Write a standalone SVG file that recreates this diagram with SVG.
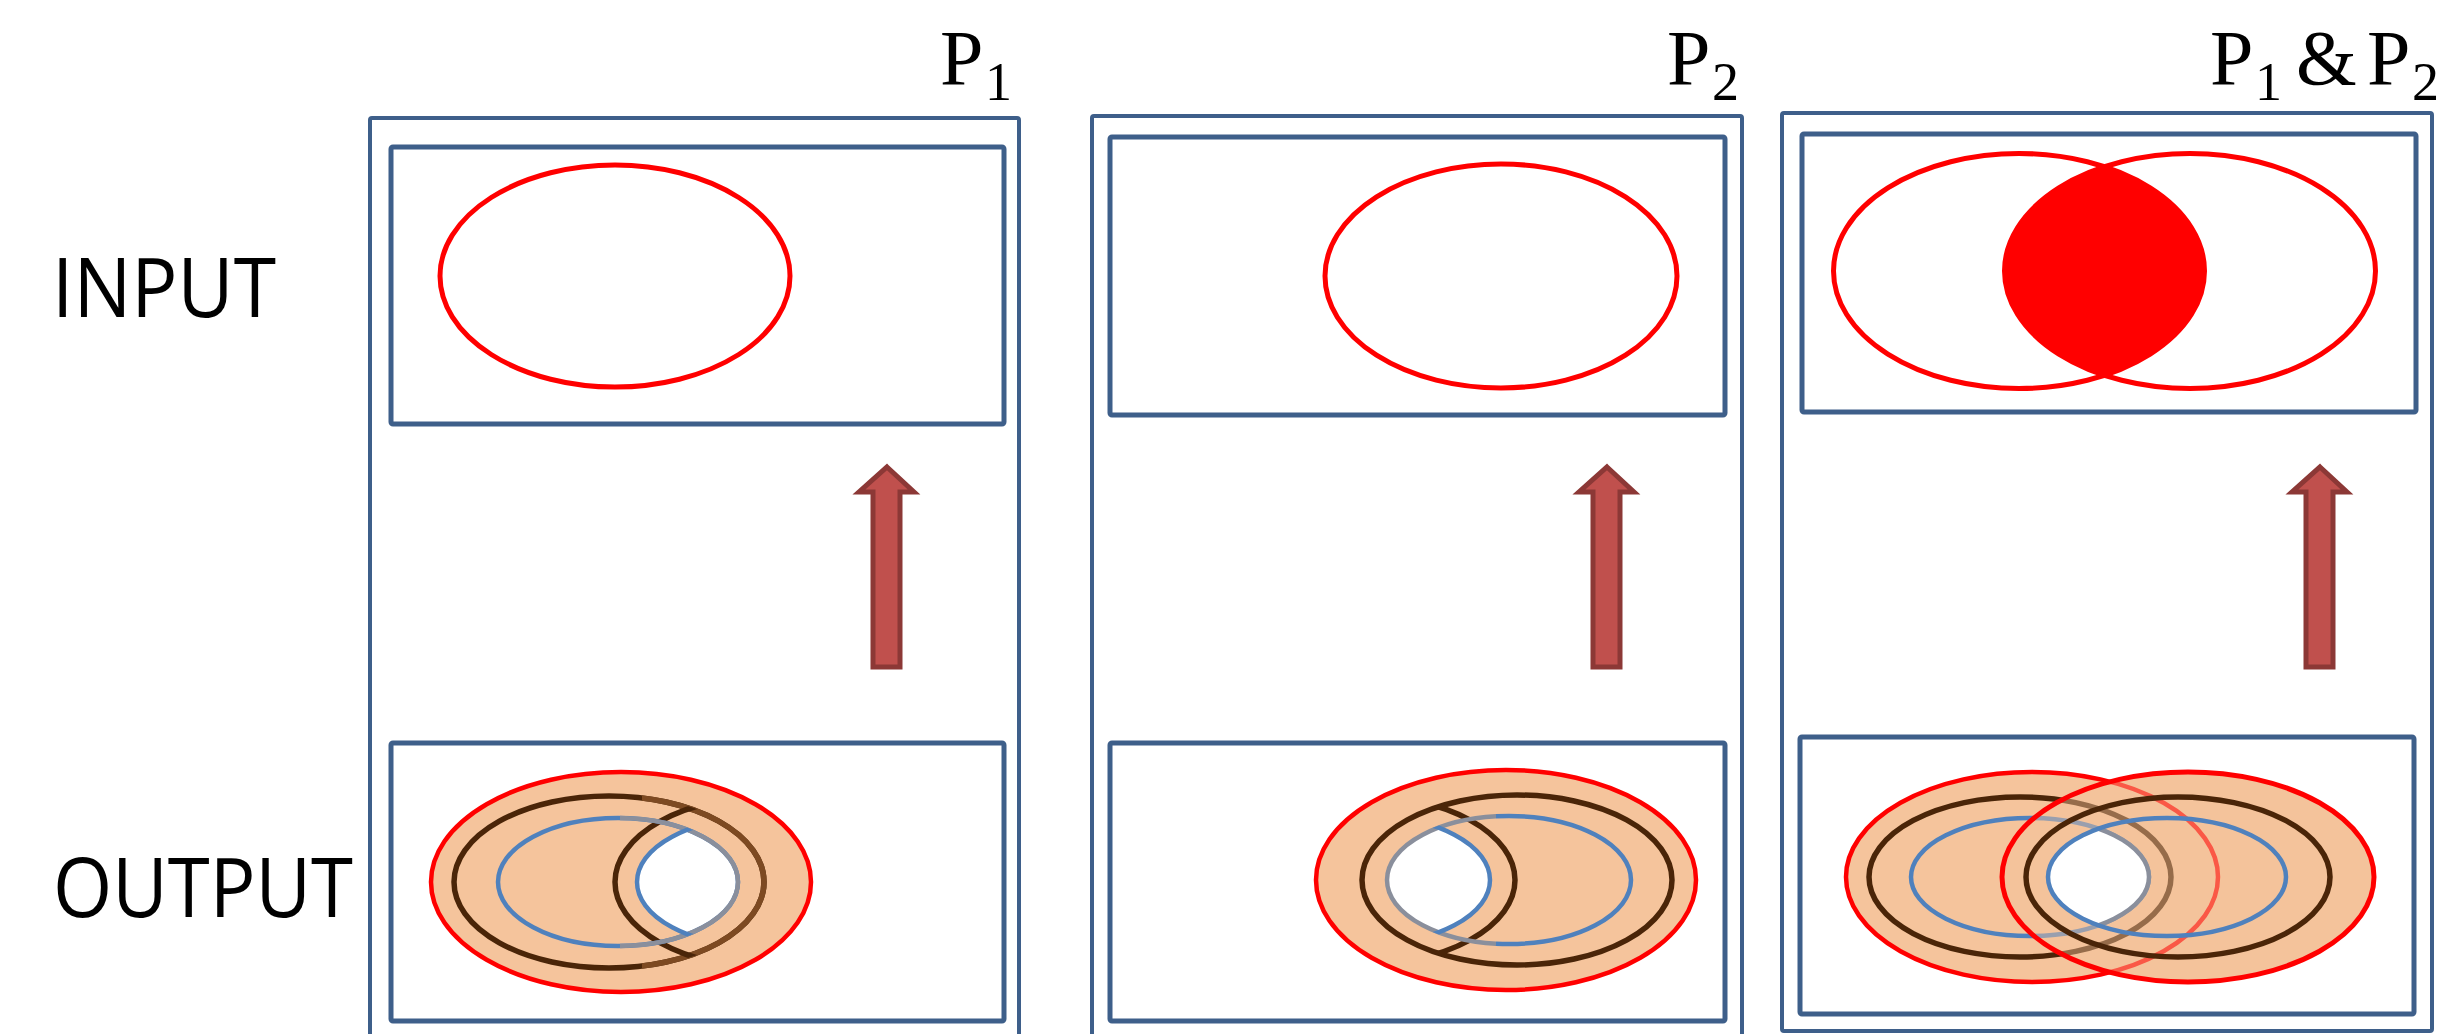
<svg xmlns="http://www.w3.org/2000/svg" width="2464" height="1034" viewBox="0 0 2464 1034">
<style>
.outer{fill:none;stroke:#3e5f8a;stroke-width:4}
.inner{fill:none;stroke:#3e5f8a;stroke-width:5}
.redline{fill:none;stroke:#ff0000;stroke-width:5}
.orange{fill:#f5c49c;stroke:#ff0000;stroke-width:4.5}
.brown{fill:none;stroke:#4a2508;stroke-width:5.5}
.brownlt{fill:none;stroke:#7d4a22;stroke-width:5.5}
.blue{fill:none;stroke:#4f81bd;stroke-width:4.5}
.gray{fill:none;stroke:#8a8f9c;stroke-width:4.5}
.arrow{fill:#c0504d;stroke:#8c3836;stroke-width:5;stroke-linejoin:miter}
.lbl{font-family:"Open Sans","Noto Sans",sans-serif;font-size:82px;fill:#000}
.ser{font-family:"Liberation Serif","DejaVu Serif",serif;fill:#000;font-size:78px}
.sub{font-size:54px}
</style>
<defs>
<clipPath id="c1lbrown"><ellipse cx="609" cy="882" rx="157" ry="88"/></clipPath>
<clipPath id="c1lblue"><ellipse cx="618" cy="882" rx="122" ry="66"/></clipPath>
<clipPath id="c1hole"><ellipse cx="618" cy="882" rx="120" ry="64"/></clipPath>
<clipPath id="c1rb"><rect x="642" y="700" width="300" height="330"/></clipPath>
<clipPath id="c1rbl"><rect x="620" y="700" width="300" height="330"/></clipPath>
<clipPath id="c2mbrown"><ellipse cx="1517" cy="880" rx="157" ry="87"/></clipPath>
<clipPath id="c2mblue"><ellipse cx="1509" cy="880" rx="124" ry="66"/></clipPath>
<clipPath id="c2hole"><ellipse cx="1509" cy="880" rx="122" ry="64"/></clipPath>
<clipPath id="c2left"><rect x="1200" y="700" width="296" height="330"/></clipPath>
<clipPath id="c2right"><rect x="1496" y="700" width="300" height="330"/></clipPath>
<clipPath id="c3lblue"><ellipse cx="2030" cy="877" rx="119" ry="59"/></clipPath>
<clipPath id="c3rblue"><ellipse cx="2167" cy="877" rx="121" ry="61"/></clipPath>
<clipPath id="c3topl"><ellipse cx="2019" cy="271" rx="185.5" ry="117.5"/></clipPath>
</defs>
<rect width="2464" height="1034" fill="#fff"/>

<g id="row-labels">
<text class="lbl" x="52" y="317" textLength="224" lengthAdjust="spacingAndGlyphs">INPUT</text>
<text class="lbl" x="53" y="917" textLength="300" lengthAdjust="spacingAndGlyphs">OUTPUT</text>
</g>

<g id="panel-p1">
<rect class="outer" x="370" y="118" width="649" height="940" rx="2"/>
<text class="ser" x="940" y="84">P<tspan class="sub" x="985" y="100">1</tspan></text>
<g id="p1-input">
<rect class="inner" x="391" y="147" width="613" height="277" rx="2"/>
<ellipse class="redline" cx="615" cy="276" rx="175" ry="111"/>
</g>
<g id="p1-output">
<rect class="inner" x="391" y="743" width="613" height="278" rx="2"/>
<ellipse class="orange" cx="621" cy="882" rx="190" ry="110"/>
<ellipse cx="757" cy="882" rx="120" ry="64" fill="#fff" clip-path="url(#c1hole)"/>
<ellipse class="brown" cx="609" cy="882" rx="155" ry="86"/>
<ellipse class="brownlt" cx="609" cy="882" rx="155" ry="86" clip-path="url(#c1rb)"/>
<ellipse class="brown" cx="770" cy="882" rx="155" ry="86" clip-path="url(#c1lbrown)"/>
<ellipse class="blue" cx="618" cy="882" rx="120" ry="64"/>
<ellipse class="gray" cx="618" cy="882" rx="120" ry="64" clip-path="url(#c1rbl)"/>
<ellipse class="blue" cx="757" cy="882" rx="120" ry="64" clip-path="url(#c1lblue)"/>
</g>
</g>

<g id="panel-p2">
<rect class="outer" x="1092" y="116" width="650" height="940" rx="2"/>
<text class="ser" x="1667" y="84">P<tspan class="sub" x="1712" y="100">2</tspan></text>
<g id="p2-input">
<rect class="inner" x="1110" y="137" width="615" height="278" rx="2"/>
<ellipse class="redline" cx="1501" cy="276" rx="176" ry="112"/>
</g>
<g id="p2-output">
<rect class="inner" x="1110" y="743" width="615" height="278" rx="2"/>
<ellipse class="orange" cx="1506" cy="880" rx="190" ry="110"/>
<ellipse cx="1368" cy="880" rx="122" ry="64" fill="#fff" clip-path="url(#c2hole)"/>
<ellipse class="brown" cx="1517" cy="880" rx="155" ry="85"/>
<ellipse class="brown" cx="1360" cy="880" rx="155" ry="85" clip-path="url(#c2mbrown)"/>
<ellipse class="blue" cx="1509" cy="880" rx="122" ry="64" clip-path="url(#c2right)"/>
<ellipse class="gray" cx="1509" cy="880" rx="122" ry="64" clip-path="url(#c2left)"/>
<ellipse class="blue" cx="1368" cy="880" rx="122" ry="64" clip-path="url(#c2mblue)"/>
</g>
</g>

<g id="panel-p1p2">
<rect class="outer" x="1782" y="113" width="650" height="918" rx="2"/>
<text class="ser" x="2210" y="84">P<tspan class="sub" x="2255" y="100">1</tspan><tspan x="2296" y="84">&amp;</tspan><tspan x="2367" y="84">P</tspan><tspan class="sub" x="2412" y="100">2</tspan></text>
<g id="p1p2-input">
<rect class="inner" x="1802" y="134" width="614" height="278" rx="2"/>
<ellipse cx="2190" cy="271" rx="185.5" ry="117.5" fill="#ff0000" clip-path="url(#c3topl)"/>
<ellipse class="redline" cx="2019" cy="271" rx="185.5" ry="117.5" stroke-width="6"/>
<ellipse class="redline" cx="2190" cy="271" rx="185.5" ry="117.5" stroke-width="6"/>
</g>
<g id="p1p2-output">
<rect class="inner" x="1800" y="737" width="614" height="277" rx="2"/>
<ellipse cx="2188" cy="877" rx="186" ry="105" fill="#f5c49c"/>
<ellipse class="orange" cx="2032" cy="877" rx="186" ry="105"/>
<ellipse class="brown" cx="2020" cy="877" rx="151" ry="80"/>
<ellipse class="blue" cx="2030" cy="877" rx="119" ry="59"/>
<ellipse cx="2188" cy="877" rx="186" ry="105" fill="#f5c49c" fill-opacity="0.45"/>
<ellipse cx="2167" cy="877" rx="119" ry="59" fill="#fff" clip-path="url(#c3lblue)"/>
<ellipse class="gray" cx="2030" cy="877" rx="119" ry="59" clip-path="url(#c3rblue)"/>
<ellipse class="redline" cx="2188" cy="877" rx="186" ry="105"/>
<ellipse class="brown" cx="2178" cy="877" rx="152" ry="80"/>
<ellipse class="blue" cx="2167" cy="877" rx="119" ry="59"/>
</g>
</g>

<g id="connectors">
<polygon class="arrow" points="887,467 914,492 900,492 900,667 873,667 873,492 859,492"/>
<polygon class="arrow" points="1607,467 1634,492 1620,492 1620,667 1593,667 1593,492 1579,492"/>
<polygon class="arrow" points="2320,467 2347,492 2333,492 2333,667 2306,667 2306,492 2292,492"/>
</g>
</svg>
